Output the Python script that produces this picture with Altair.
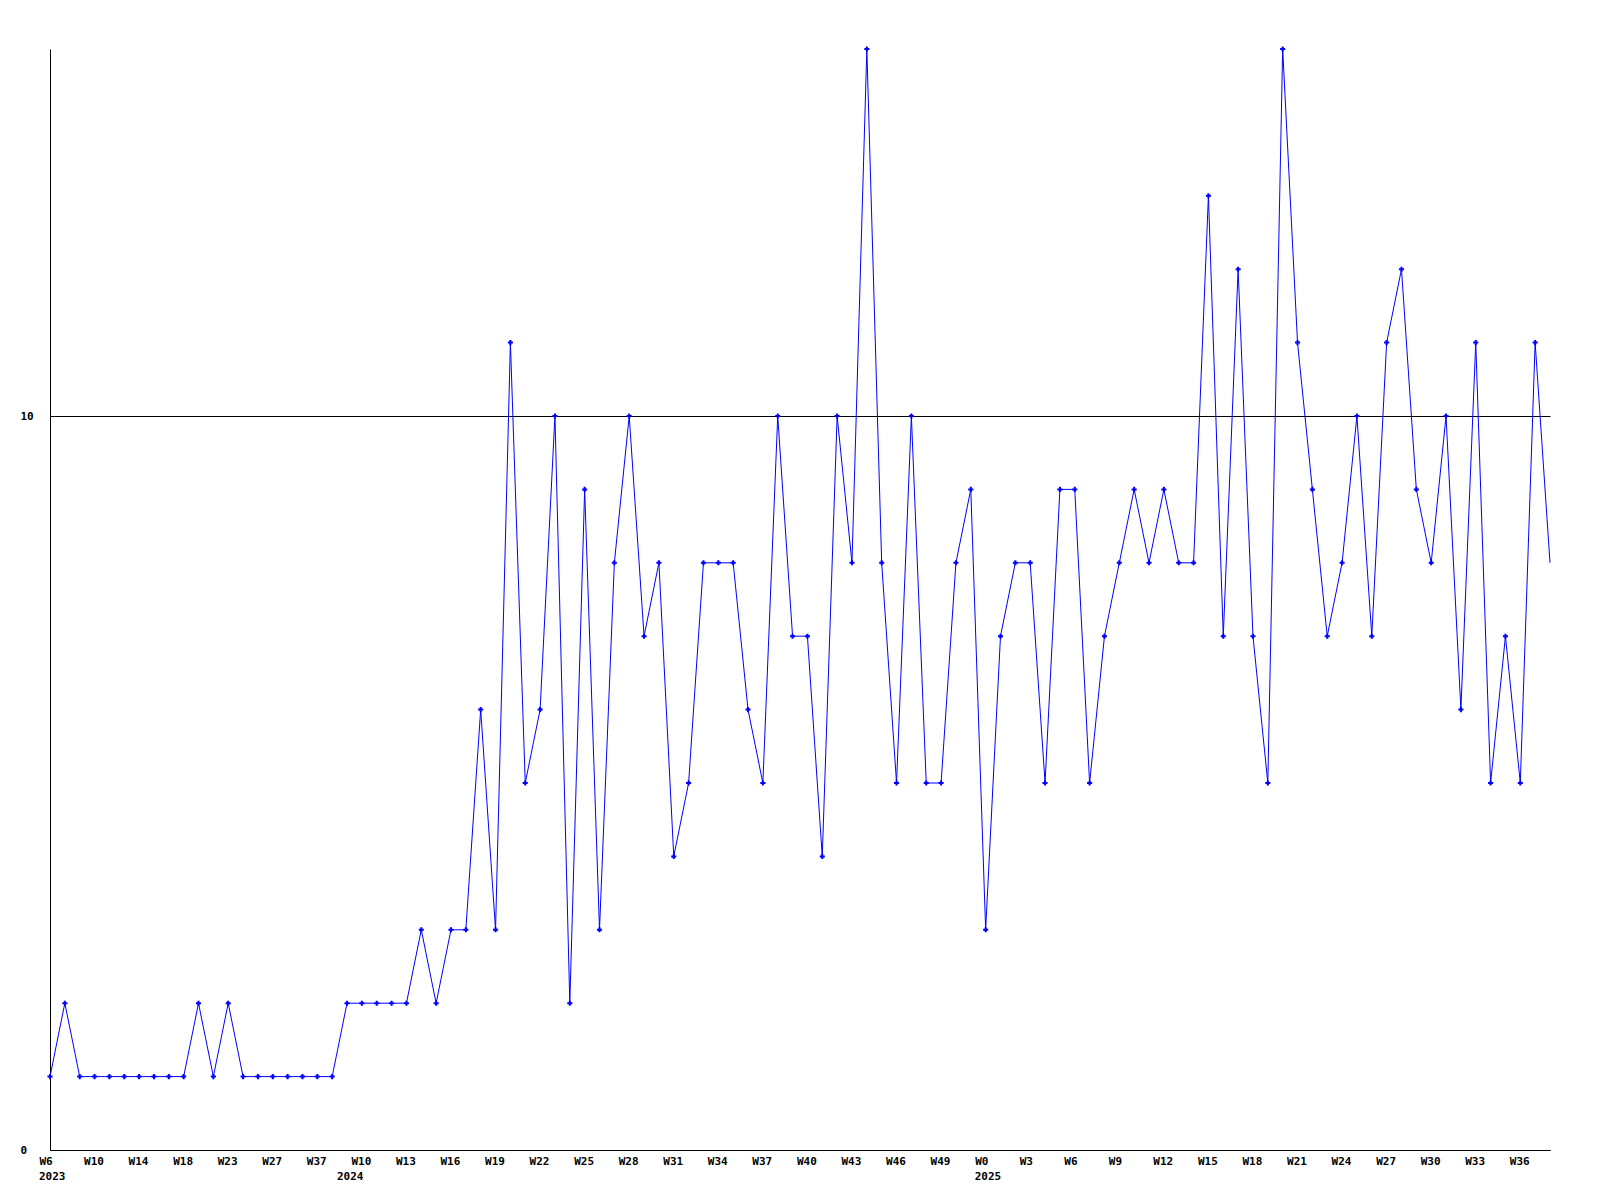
import altair as alt
import pandas as pd
import json

values = [1,2,1,1,1,1,1,1,1,1,
          2,1,2,1,1,1,1,1,1,1,
          2,2,2,2,2,3,2,3,3,6,
          3,11,5,6,10,2,9,3,8,10,
          7,8,4,5,8,8,8,6,5,10,
          7,7,4,10,8,15,8,5,10,5,
          5,8,9,3,7,8,8,5,9,9,
          5,7,8,9,8,9,8,8,13,7,
          12,7,5,15,11,9,7,8,10,7,
          11,12,9,8,10,6,11,5,7,5,
          11,8]

tick_labels = ["W6","W10","W14","W18","W23","W27","W37","W10","W13","W16","W19","W22",
               "W25","W28","W31","W34","W37","W40","W43","W46","W49","W0","W3","W6",
               "W9","W12","W15","W18","W21","W24","W27","W30","W33","W36"]
years = ["2023", "2024", "2025"]
year_idx = [0, 21, 63]
year_shift = [0, -14, 0]

df = pd.DataFrame({"idx": list(range(len(values))), "value": values})
df["marker"] = df["idx"] < len(values) - 1
ydf = pd.DataFrame({"idx": year_idx, "year": years, "shift": year_shift})

label_expr = json.dumps(tick_labels) + "[floor(datum.value / 3)]"

FONT = "DejaVu Sans Mono"
H = 1101

xscale = alt.Scale(domain=[0, len(values) - 1], nice=False, zero=False)
x = alt.X("idx:Q", scale=xscale,
          axis=alt.Axis(values=list(range(0, len(values), 3)), labelExpr=label_expr,
                        title=None, grid=False, ticks=False, labelAlign="left",
                        labelBaseline="top", labelOffset=-11, labelPadding=5,
                        labelOverlap=False, labelFlush=False,
                        domainColor="black", labelFont=FONT, labelFontSize=11,
                        labelFontWeight="bold", labelColor="black"))
y = alt.Y("value:Q",
          scale=alt.Scale(domain=[0, 15], nice=False),
          axis=alt.Axis(values=[0, 10], title=None, grid=True, gridColor="black",
                        gridOpacity=1, gridWidth=1, ticks=False, labelAlign="left",
                        labelPadding=30, domainColor="black", labelFont=FONT,
                        labelFontSize=11, labelFontWeight="bold", labelColor="black"))

line = alt.Chart(df).mark_line(color="#0000ff", strokeWidth=1).encode(x=x, y=y)
pts = alt.Chart(df).transform_filter("datum.marker").mark_point(
    shape="cross", filled=True, color="#0000ff", size=26, opacity=1).encode(x=x, y=y)

yr_a = alt.Chart(ydf[ydf["shift"] == 0]).mark_text(
    align="left", baseline="top", dx=-11, font=FONT, fontSize=11, fontWeight="bold",
    color="black").encode(x=alt.X("idx:Q", scale=xscale), y=alt.value(H + 21), text="year:N")
yr_b = alt.Chart(ydf[ydf["shift"] != 0]).mark_text(
    align="left", baseline="top", dx=-25, font=FONT, fontSize=11, fontWeight="bold",
    color="black").encode(x=alt.X("idx:Q", scale=xscale), y=alt.value(H + 21), text="year:N")

chart = (line + pts + yr_a + yr_b).properties(
    width=1500, height=H,
    padding={"left": 42, "top": 41, "right": 40, "bottom": 40},
    autosize="none",
    background="white",
).configure_view(stroke=None)

chart.save("out.html", embed_options={"renderer": "svg", "actions": False})
